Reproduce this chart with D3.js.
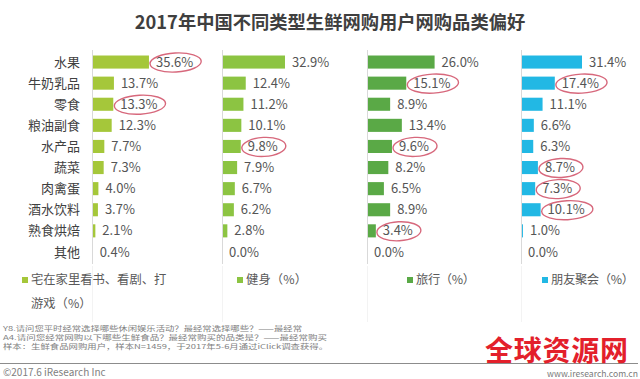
<!DOCTYPE html>
<html><head><meta charset="utf-8">
<script src="https://cdn.jsdelivr.net/npm/d3@7/dist/d3.min.js"></script>
<style>
html,body{margin:0;padding:0;background:#fff;}
svg{display:block;font-family:"Noto Sans CJK SC","Noto Sans",sans-serif;}
</style></head>
<body><svg id="c" width="640" height="379"></svg>
<script>
const title = "2017年中国不同类型生鲜网购用户网购品类偏好";
const categories = ["水果","牛奶乳品","零食","粮油副食","水产品","蔬菜","肉禽蛋","酒水饮料","熟食烘焙","其他"];
const seriesNames = ["宅在家里看书、看剧、打游戏（%）","健身（%）","旅行（%）","朋友聚会（%）"];
const homeValues = [35.6,13.7,13.3,12.3,7.7,7.3,4.0,3.7,2.1,0.4];
const fitnessValues = [32.9,12.4,11.2,10.1,9.8,7.9,6.7,6.2,2.8,0.0];
const travelValues = [26.0,15.1,8.9,13.4,9.6,8.2,6.5,8.9,3.4,0.0];
const partyValues = [31.4,17.4,11.1,6.6,6.3,8.7,7.3,10.1,1.0,0.0];
const circledHome = ["水果","零食"];
const circledFitness = ["水产品"];
const circledTravel = ["牛奶乳品","水产品","熟食烘焙"];
const circledParty = ["牛奶乳品","蔬菜","肉禽蛋","酒水饮料"];
const notes = [
  "Y8.请问您平时经常选择哪些休闲娱乐活动？最经常选择哪些？——最经常",
  "A4.请问您经常网购以下哪些生鲜食品？最经常购买的品类是？——最经常购买",
  "样本：生鲜食品网购用户，样本N=1459，于2017年5-6月通过iClick调查获得。"
];
const copyright = "©2017.6 iResearch Inc";
const website = "www.iresearch.com.cn";
const watermark = "全球资源网";

const svg = d3.select("#c");
svg.append("rect").attr("width",640).attr("height",379).attr("fill","#fff");

svg.append("text").attr("x",330).attr("y",29).attr("text-anchor","middle")
  .attr("font-size",18.3).attr("font-weight","bold").attr("fill","#3f3f3f").text(title);

const y = d3.scaleBand().domain(categories).range([51.5,262.5]).paddingInner(0.38).paddingOuter(0.19);

const panels = [
  {values:homeValues, circled:circledHome, color:"#a5c73a", x0:92, w:64, max:40},
  {values:fitnessValues, circled:circledFitness, color:"#8cc442", x0:222, w:67, max:35},
  {values:travelValues, circled:circledTravel, color:"#5aa946", x0:367, w:78, max:30},
  {values:partyValues, circled:circledParty, color:"#22b8e4", x0:521, w:68, max:35}
];

svg.append("g").selectAll("text").data(categories).join("text")
  .attr("x",80).attr("y",d=>y(d)+y.bandwidth()/2).attr("dy","0.35em")
  .attr("text-anchor","end").attr("font-size",13).attr("fill","#404040").text(d=>d);

panels.forEach((p,pi)=>{
  const x = d3.scaleLinear().domain([0,p.max]).range([p.x0,p.x0+p.w]);
  const g = svg.append("g");
  svg.append("line").attr("x1",p.x0+0.5).attr("x2",p.x0+0.5).attr("y1",266).attr("y2",322)
    .attr("stroke","#f3f3f3").attr("stroke-width",1);
  g.selectAll("rect").data(p.values).join("rect")
    .attr("x",x(0)).attr("y",(d,i)=>y(categories[i]))
    .attr("width",d=>x(d)-x(0)).attr("height",y.bandwidth()).attr("fill",p.color);
  g.append("line").attr("x1",x(0)+0.5).attr("x2",x(0)+0.5).attr("y1",50).attr("y2",264)
    .attr("stroke","#d9d9d9").attr("stroke-width",1);
  const labels = g.selectAll("text.v").data(p.values).join("text").attr("class","v")
    .attr("x",d=>x(d)+7).attr("y",(d,i)=>y(categories[i])+y.bandwidth()/2).attr("dy","0.35em")
    .attr("font-size",13).attr("fill","#555").text(d=>d.toFixed(1)+"%");
  labels.each(function(d,i){
    if(p.circled.includes(categories[i])){
      const bb = this.getBBox();
      const cy = y(categories[i])+y.bandwidth()/2;
      g.append("ellipse").attr("cx",bb.x+bb.width/2+1).attr("cy",cy+0.5)
        .attr("rx",bb.width/2+7).attr("ry",9.5)
        .attr("fill","none").attr("stroke","#d7687c").attr("stroke-width",1.4)
        .attr("transform",`rotate(-3,${bb.x+bb.width/2},${cy})`);
    }
  });
});

// legend
const legendPos = [{sx:22,tx:31,len:null},{sx:237,tx:246,len:61},{sx:407,tx:416,len:59},{sx:542,tx:551,len:83}];
panels.forEach((p,i)=>{
  const lp = legendPos[i];
  svg.append("rect").attr("x",lp.sx).attr("y",277).attr("width",6).attr("height",6).attr("fill",p.color);
  const t = svg.append("text").attr("x",lp.tx).attr("y",280).attr("dy","0.35em")
    .attr("font-size",12.3).attr("fill","#595959");
  if(i===0){
    t.append("tspan").attr("x",lp.tx).text("宅在家里看书、看剧、打");
    t.append("tspan").attr("x",lp.tx).attr("dy","1.95em").text("游戏（%）");
  } else {
    t.text(seriesNames[i]).attr("textLength",lp.len).attr("lengthAdjust","spacing");
  }
});

// notes
const noteLens = [299,324,325];
svg.append("g").selectAll("text").data(notes).join("text")
  .attr("x",3).attr("y",(d,i)=>329+i*9).attr("dy","0.35em")
  .attr("font-size",6.3).attr("fill","#808080")
  .attr("textLength",(d,i)=>noteLens[i]).attr("lengthAdjust","spacingAndGlyphs").text(d=>d);
svg.append("line").attr("x1",0).attr("x2",638).attr("y1",363.5).attr("y2",363.5)
  .attr("stroke","#8c8c8c").attr("stroke-width",1);
svg.append("text").attr("x",3).attr("y",372).attr("dy","0.35em").attr("font-size",10)
  .attr("fill","#808080").text(copyright);
svg.append("text").attr("x",638).attr("y",373.5).attr("dy","0.35em").attr("text-anchor","end")
  .attr("font-size",8.6).attr("fill","#7a7a7a").text(website);
svg.append("text").attr("x",485).attr("y",351.5).attr("dy","0.35em").attr("font-size",28)
  .attr("font-weight","bold").attr("fill","#e3202b").attr("textLength",143).text(watermark);
</script></body></html>
